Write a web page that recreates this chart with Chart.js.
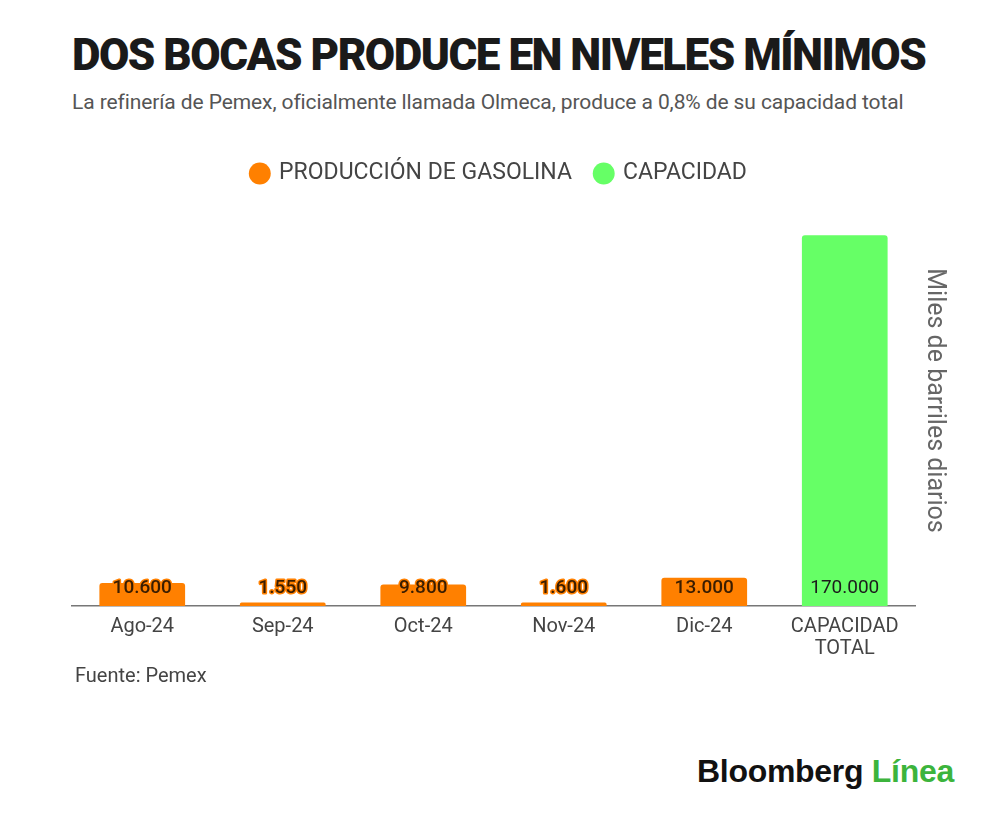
<!DOCTYPE html>
<html><head><meta charset="utf-8">
<script src="https://cdn.jsdelivr.net/npm/chart.js@4.4.1/dist/chart.umd.min.js"></script>
<style>
html,body{margin:0;padding:0;background:#fff;width:1000px;height:814px;overflow:hidden;font-family:Roboto,sans-serif;}
#title{position:absolute;left:72px;top:27px;font-family:Roboto;font-weight:900;font-size:44px;letter-spacing:-1.5px;color:#1a1a1a;white-space:nowrap;line-height:56px;}
#sub{position:absolute;left:72px;top:88px;font-family:Roboto;font-size:21px;letter-spacing:-0.1px;color:#555;white-space:nowrap;line-height:28px;}
#src{position:absolute;left:75px;top:662px;font-family:Roboto;font-size:20px;color:#444;line-height:26px;}
#logo{position:absolute;left:697px;top:751px;font-family:"Liberation Sans",Arial,sans-serif;font-weight:bold;font-size:32px;letter-spacing:-0.3px;line-height:40px;white-space:nowrap;color:#111;}
#logo span{color:#3cb43c;}
#wrap{position:absolute;left:0;top:120px;width:1000px;height:561px;}
</style></head>
<body>
<div id="title">DOS BOCAS PRODUCE EN NIVELES MÍNIMOS</div>
<div id="sub">La refinería de Pemex, oficialmente llamada Olmeca, produce a 0,8% de su capacidad total</div>
<div id="wrap"><canvas id="c"></canvas></div>
<div id="src">Fuente: Pemex</div>
<div id="logo">Bloomberg <span>Línea</span></div>
<script>
const categories = ["Ago-24", "Sep-24", "Oct-24", "Nov-24", "Dic-24", ["CAPACIDAD", "TOTAL"]];
const produccion = [10600, 1550, 9800, 1600, 13000, null];
const capacidad = [null, null, null, null, null, 170000];
const seriesNames = ["PRODUCCIÓN DE GASOLINA", "CAPACIDAD"];
const axisTitle = "Miles de barriles diarios";

const ORANGE = "#ff8000";
const GREEN = "#66ff66";

function fmt(v){ return String(v).replace(/\B(?=(\d{3})+(?!\d))/g, "."); }

const labelPlugin = {
  id: "barLabels",
  afterDatasetsDraw(chart){
    const ctx = chart.ctx;
    const yScale = chart.scales.y;
    const base = yScale.getPixelForValue(0);
    chart.data.datasets.forEach((ds, di) => {
      const meta = chart.getDatasetMeta(di);
      meta.data.forEach((bar, i) => {
        const v = ds.data[i];
        if (v === null || v === undefined) return;
        ctx.save();
        ctx.textAlign = "center";
        ctx.textBaseline = "middle";
        ctx.font = (di === 0 ? "500 " : "400 ") + "19px Roboto";
        const y = base - 18;
        if (di === 0) {
          ctx.lineJoin = "round";
          ctx.lineWidth = 3;
          ctx.strokeStyle = ORANGE;
          ctx.strokeText(fmt(v), bar.x, y);
          ctx.fillStyle = "#3a1d00";
        } else {
          ctx.fillStyle = "#1c1c1c";
        }
        ctx.fillText(fmt(v), bar.x, y);
        ctx.restore();
      });
    });
  }
};

const legendShift = {
  id: "legendShift",
  afterLayout(chart){
    if (chart.legend) { chart.legend.left -= 13; chart.legend.right -= 13; }
  }
};

new Chart(document.getElementById("c"), {
  type: "bar",
  data: {
    labels: categories,
    datasets: [
      { label: seriesNames[0], data: produccion, backgroundColor: ORANGE, borderRadius: 3, borderSkipped: "bottom" },
      { label: seriesNames[1], data: capacidad, backgroundColor: GREEN, borderRadius: 3, borderSkipped: "bottom" }
    ]
  },
  options: {
    responsive: true,
    maintainAspectRatio: false,
    animation: false,
    datasets: { bar: { categoryPercentage: 1, barPercentage: 0.61 } },
    layout: { padding: { left: 72, right: 47, top: 18, bottom: 11 } },
    plugins: {
      tooltip: { enabled: false },
      legend: {
        position: "top",
        labels: {
          usePointStyle: true, pointStyle: "circle", boxWidth: 15.5, boxHeight: 15.5,
          padding: 24, color: "#444", font: { family: "Roboto", size: 23 }
        }
      }
    },
    scales: {
      x: {
        stacked: true,
        grid: { display: false, drawTicks: false },
        border: { display: true, color: "#777", width: 1.5 },
        ticks: { color: "#444", padding: 10, font: { family: "Roboto", size: 20, lineHeight: 1.1 }, maxRotation: 0 }
      },
      y: {
        stacked: true,
        position: "right",
        min: 0, max: 188400,
        grid: { display: false, drawTicks: false },
        border: { display: false },
        ticks: { display: false },
        title: { display: true, text: axisTitle, color: "#666", font: { family: "Roboto", size: 25 }, padding: { top: 4, bottom: 4 } }
      }
    }
  },
  plugins: [labelPlugin, legendShift]
});
</script>
</body></html>
